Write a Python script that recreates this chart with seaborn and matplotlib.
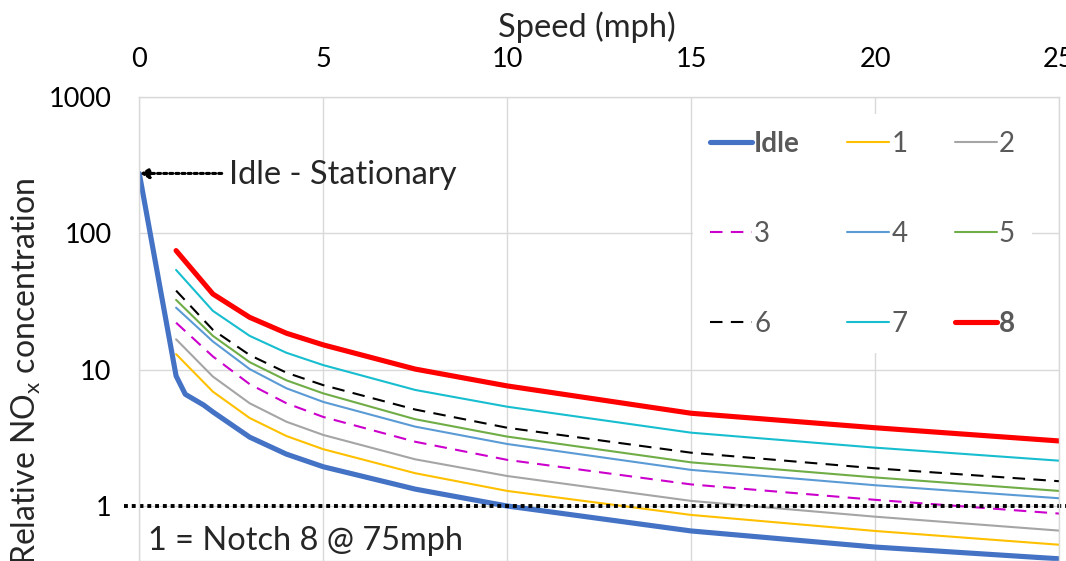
import matplotlib
matplotlib.use("Agg")
import matplotlib.pyplot as plt
import seaborn as sns
import numpy as np

# speeds (mph) at which the notches were read
speed = [1, 2, 3, 4, 5, 7.5, 10, 15, 20, 25]
idle_speed = [0, 1, 1.25, 1.75, 2, 3, 4, 5, 7.5, 10, 15, 20, 25]

idle = [275, 9.0, 6.6, 5.5, 4.9, 3.2, 2.4, 1.94, 1.33, 1.0, 0.656, 0.50, 0.41]
n1 = [13.0, 6.9, 4.42, 3.26, 2.61, 1.74, 1.29, 0.86, 0.656, 0.52]
n2 = [16.7, 8.9, 5.67, 4.15, 3.32, 2.2, 1.66, 1.09, 0.835, 0.66]
n3 = [22.1, 12.5, 7.83, 5.67, 4.5, 2.96, 2.18, 1.44, 1.11, 0.88]
n4 = [28.5, 16.1, 10.1, 7.3, 5.8, 3.82, 2.85, 1.84, 1.42, 1.14]
n5 = [32.5, 17.7, 11.35, 8.35, 6.7, 4.33, 3.23, 2.09, 1.62, 1.29]
n6 = [38.0, 19.6, 12.8, 9.5, 7.7, 5.1, 3.75, 2.46, 1.89, 1.52]
n7 = [53.9, 27.0, 17.7, 13.3, 10.8, 7.1, 5.35, 3.45, 2.68, 2.15]
n8 = [74.7, 35.9, 24.2, 18.5, 15.2, 10.1, 7.6, 4.79, 3.75, 3.0]

labels = ["Idle", "1", "2", "3", "4", "5", "6", "7", "8"]
colors = ["#4472C4", "#FFC000", "#A5A5A5", "#CC00CC", "#5B9BD5",
          "#70AD47", "#000000", "#17BECF", "#FF0000"]

sns.set_style("white")
plt.rcParams['font.family'] = ['Lato', 'DejaVu Sans']
plt.rcParams['mathtext.fontset'] = 'custom'
plt.rcParams['mathtext.rm'] = 'Lato'

fig = plt.figure(figsize=(10.66, 5.61), dpi=100)
ax = fig.add_axes([139.3 / 1066, 0, 919.7 / 1066, 464 / 561])

series = [idle, n1, n2, n3, n4, n5, n6, n7, n8]
for i, (lab, vals) in enumerate(zip(labels, series)):
    xs = idle_speed if lab == "Idle" else speed
    lw = 3.7 if lab in ("Idle", "8") else 1.5
    ls = (0, (6, 4)) if lab in ("3", "6") else "-"
    sns.lineplot(x=xs, y=vals, ax=ax, color=colors[i], lw=lw, linestyle=ls,
                 label=lab, estimator=None, sort=False,
                 solid_capstyle="round", solid_joinstyle="round")

# reference line at 1 (notch 8 @ 75 mph)
ax.plot([-0.42, 25.3], [1, 1], color="black", lw=2.8, linestyle=(0, (1, 1)),
        clip_on=False, zorder=6, label="_nolegend_")

ax.annotate("", xy=(0.02, 275), xytext=(2.24, 275),
            arrowprops=dict(arrowstyle="-|>,head_length=0.5,head_width=0.3",
                            color="black", lw=2.2, linestyle=(0, (1, 1)),
                            shrinkA=0, shrinkB=0))
ax.text(2.45, 230, "Idle - Stationary", fontsize=23.5, va="baseline", ha="left")
ax.text(0.23, 0.475, "1 = Notch 8 @ 75mph", fontsize=23.4, va="baseline", ha="left")

ax.set_yscale("log")
ax.set_ylim(0.395, 1000)
ax.set_xlim(0, 25)
ax.set_yticks([1, 10, 100, 1000])
ax.set_yticklabels(["1", "10", "100", "1000"])
ax.minorticks_off()
ax.set_xticks([0, 5, 10, 15, 20, 25])
ax.xaxis.tick_top()
ax.tick_params(axis="both", length=0, labelsize=19.5, colors="black")
ax.tick_params(axis="x", pad=18)
ax.tick_params(axis="y", pad=20)

ax.grid(True, color="#D9D9D9", lw=1)
for sp in ax.spines.values():
    sp.set_color("#D9D9D9")
    sp.set_linewidth(1)
    sp.set_zorder(7)

ax.xaxis.set_label_position("top")
ax.set_xlabel("Speed (mph)", fontsize=23.5)
ax.xaxis.label.set_va("baseline")
ax.xaxis.set_label_coords(0.487, (561 - 37) / 464)
ax.set_ylabel("")
fig.text(0.0245, (561 - 178) / 561, "Relative NO$_{\\mathregular{x}}$ concentration",
         rotation=90, fontsize=23, va="top", ha="center")

handles, labs = ax.get_legend_handles_labels()
order = [0, 3, 6, 1, 4, 7, 2, 5, 8]
leg = ax.legend([handles[k] for k in order], [labs[k] for k in order], ncol=3,
                loc="upper left", bbox_to_anchor=(0.6024, 0.963), borderaxespad=0,
                fontsize=20, frameon=True, facecolor="white", edgecolor="none",
                framealpha=1, fancybox=False, borderpad=0.6, handlelength=1.51,
                handletextpad=0.08, labelspacing=2.3, columnspacing=1.7)
for t in leg.get_texts():
    t.set_color("#595959")
    if t.get_text() in ("Idle", "8"):
        t.set_fontweight("bold")

fig.savefig("out.png", dpi=100)
